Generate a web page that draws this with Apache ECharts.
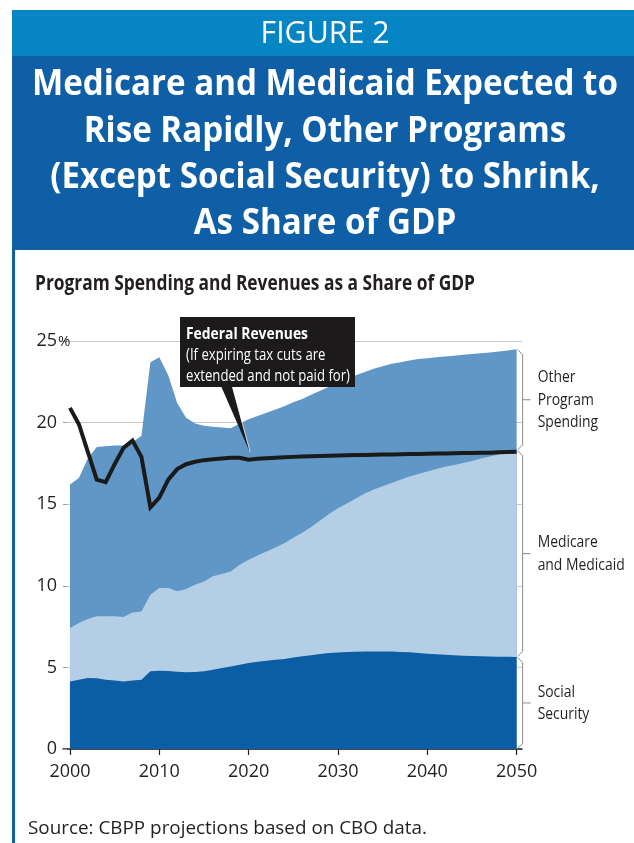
<!DOCTYPE html>
<html>
<head>
<meta charset="utf-8">
<title>Program Spending and Revenues as a Share of GDP</title>
<script src="https://cdn.jsdelivr.net/npm/echarts@6/dist/echarts.min.js"></script>
<style>
  html, body { margin: 0; padding: 0; background: #fff; }
  #chart { width: 634px; height: 843px; }
</style>
</head>
<body>
<div id="chart"></div>
<script>
// ---- data (percent of GDP) ----
const years = [
  2000, 2001, 2002, 2003, 2004, 2005, 2006, 2007, 2008, 2009,
  2010, 2011, 2012, 2013, 2014, 2015, 2016, 2017, 2018, 2019,
  2020, 2021, 2022, 2023, 2024, 2025, 2026, 2027, 2028, 2029,
  2030, 2031, 2032, 2033, 2034, 2035, 2036, 2037, 2038, 2039,
  2040, 2041, 2042, 2043, 2044, 2045, 2046, 2047, 2048, 2049, 2050
];
const socialSecurity = [
  4.14, 4.25, 4.35, 4.33, 4.25, 4.20, 4.14, 4.20, 4.25, 4.76,
  4.80, 4.78, 4.74, 4.70, 4.72, 4.76, 4.86, 4.96, 5.06, 5.17,
  5.27, 5.35, 5.41, 5.47, 5.52, 5.60, 5.68, 5.75, 5.82, 5.88,
  5.92, 5.94, 5.96, 5.97, 5.98, 5.98, 5.97, 5.95, 5.93, 5.88,
  5.84, 5.81, 5.78, 5.75, 5.72, 5.70, 5.68, 5.67, 5.66, 5.65, 5.64
];
const medicareMedicaid = [
  3.27, 3.47, 3.62, 3.80, 3.88, 3.93, 3.95, 4.17, 4.18, 4.69,
  5.06, 5.08, 4.92, 5.10, 5.35, 5.51, 5.72, 5.76, 5.82, 6.12,
  6.33, 6.50, 6.69, 6.88, 7.08, 7.35, 7.57, 7.85, 8.18, 8.52,
  8.83, 9.11, 9.39, 9.68, 9.92, 10.12, 10.33, 10.55, 10.77, 10.97,
  11.16, 11.34, 11.52, 11.65, 11.80, 11.95, 12.12, 12.26, 12.39, 12.53, 12.66
];
const otherPrograms = [
  8.79, 8.88, 9.83, 10.37, 10.42, 10.47, 10.51, 10.43, 10.77, 14.25,
  14.14, 13.04, 11.54, 10.50, 9.88, 9.53, 9.17, 8.98, 8.77, 8.66,
  8.60, 8.55, 8.50, 8.45, 8.40, 8.30, 8.20, 8.10, 7.95, 7.80,
  7.70, 7.65, 7.55, 7.45, 7.40, 7.35, 7.30, 7.20, 7.10, 7.05,
  6.95, 6.85, 6.75, 6.70, 6.63, 6.55, 6.45, 6.37, 6.30, 6.24, 6.20
];
const revenues = [
  20.9, 19.9, 18.2, 16.5, 16.35, 17.45, 18.45, 18.9, 17.9, 14.8,
  15.4, 16.5, 17.15, 17.45, 17.6, 17.7, 17.75, 17.8, 17.85, 17.85,
  17.72, 17.78, 17.82, 17.85, 17.87, 17.9, 17.92, 17.94, 17.96, 17.97,
  17.98, 18.0, 18.01, 18.02, 18.03, 18.04, 18.05, 18.06, 18.07, 18.08,
  18.09, 18.1, 18.11, 18.12, 18.13, 18.14, 18.15, 18.16, 18.18, 18.2, 18.22
];
const xTickYears = [2000, 2010, 2020, 2030, 2040, 2050];

// ---- text ----
const kicker = 'FIGURE 2';
const headline = [
  'Medicare and Medicaid Expected to',
  'Rise Rapidly, Other Programs',
  '(Except Social Security) to Shrink,',
  'As Share of GDP'
];
const chartTitle = 'Program Spending and Revenues as a Share of GDP';
const calloutLines = ['Federal Revenues', '(If expiring tax cuts are', 'extended and not paid for)'];
const calloutYear = 2020;
const sideLabels = [
  ['Social', 'Security'],
  ['Medicare', 'and Medicaid'],
  ['Other', 'Program', 'Spending']
];
const sourceNote = 'Source: CBPP projections based on CBO data.';

// ---- style ----
const HUMAN = '"Open Sans", sans-serif';
const INK = '#231f20';
const COLORS = { ss: '#0b5ea4', med: '#b4cfe5', other: '#6097c6', band1: '#0685c5', band2: '#0f5fa6' };

const measureCtx = document.createElement('canvas').getContext('2d');
function textWidth(text, font) { measureCtx.font = font; return measureCtx.measureText(text).width; }
function fitScale(text, font, target) { return target / textWidth(text, font); }

const chart = echarts.init(document.getElementById('chart'));

// layered areas: each band is filled from zero up to its running total,
// drawn back to front so the lower bands sit on top
const ssTop = socialSecurity.slice();
const medTop = socialSecurity.map((v, i) => v + medicareMedicaid[i]);
const allTop = medTop.map((v, i) => v + otherPrograms[i]);

const pairs = arr => years.map((y, i) => [y, +arr[i].toFixed(2)]);
const areaSeries = (name, arr, color, z) => ({
  name, type: 'line', data: pairs(arr),
  symbol: 'none', lineStyle: { width: 0 }, areaStyle: { color, opacity: 1 },
  itemStyle: { color }, z, silent: true
});

const GRID = { left: 63, right: 112, top: 341, bottom: 94 };
const LABEL_FONT = 18;

chart.setOption({
  animation: false,
  backgroundColor: '#fff',
  grid: GRID,
  xAxis: {
    type: 'value', min: 1999.22, max: 2050.6,
    splitLine: { show: false },
    axisLine: { lineStyle: { color: INK, width: 1.5 } },
    axisTick: { customValues: xTickYears, length: 6, lineStyle: { color: INK, width: 1.2 } },
    axisLabel: { customValues: xTickYears, margin: 14, fontFamily: HUMAN, fontSize: LABEL_FONT, color: INK,
      formatter: v => String(v) }
  },
  yAxis: {
    type: 'value', min: 0, max: 25, interval: 5,
    axisLine: { show: false },
    axisTick: { show: true, inside: true, length: 4, lineStyle: { color: '#9a9a9a' } },
    splitLine: { lineStyle: { color: '#c9c9c9', width: 1 } },
    axisLabel: { margin: 6, fontFamily: HUMAN, fontSize: LABEL_FONT, color: INK, formatter: v => String(v) }
  },
  series: [
    areaSeries('Other Program Spending', allTop, COLORS.other, 2),
    areaSeries('Medicare and Medicaid', medTop, COLORS.med, 3),
    areaSeries('Social Security', ssTop, COLORS.ss, 4),
    {
      name: 'Federal Revenues', type: 'line', data: pairs(revenues),
      symbol: 'none', lineStyle: { color: '#1a1a1a', width: 4, join: 'miter' }, z: 5, silent: true
    }
  ]
});

// ---- decorations placed from the axes ----
const px = (x, y) => chart.convertToPixel({ gridIndex: 0 }, [x, y]);
const g = [];

// header bands
g.push({ type: 'rect', shape: { x: 12, y: 10, width: 622, height: 46 }, style: { fill: COLORS.band1 }, z: 10 });
g.push({ type: 'rect', shape: { x: 12, y: 56, width: 622, height: 194 }, style: { fill: COLORS.band2 }, z: 10 });
g.push({ type: 'rect', shape: { x: 12, y: 250, width: 3, height: 593 }, style: { fill: COLORS.band2 }, z: 10 });

const kickerFont = '31px ' + HUMAN;
g.push({ type: 'text', x: 325, y: 34, scaleX: fitScale(kicker, kickerFont, 129), z: 11,
  style: { text: kicker, font: kickerFont, fill: '#fff', textAlign: 'center', textVerticalAlign: 'middle' } });

const headFont = 'bold 36px ' + HUMAN;
const headScale = fitScale(headline[0], headFont, 586);
headline.forEach((line, i) => {
  g.push({ type: 'text', x: 325, y: 85 + i * 46.4, scaleX: headScale, z: 11,
    style: { text: line, font: headFont, fill: '#fff', textAlign: 'center', textVerticalAlign: 'middle' } });
});

// chart title
const titleFont = 'bold 21px ' + HUMAN;
g.push({ type: 'text', x: 35, y: 284, scaleX: fitScale(chartTitle, titleFont, 440), z: 11,
  style: { text: chartTitle, font: titleFont, fill: INK, textAlign: 'left', textVerticalAlign: 'middle' } });

// percent sign on the top y label
const [gx0, y25] = px(1999.22, 25);
g.push({ type: 'text', x: gx0 - 5, y: y25 + 1, z: 11,
  style: { text: '%', font: '15px ' + HUMAN, fill: INK, textAlign: 'left', textVerticalAlign: 'middle' } });

// callout box for revenues
const ri = years.indexOf(calloutYear);
const [tx, ty] = px(calloutYear, revenues[ri]);
const box = { x: 180, y: 317, w: 175, h: 70 };
g.push({ type: 'rect', shape: { x: box.x, y: box.y, width: box.w, height: box.h }, style: { fill: '#1c1a1b' }, z: 20 });
g.push({ type: 'polygon', shape: { points: [[221, box.y + box.h - 1], [232, box.y + box.h - 1], [tx + 1, ty - 8]] },
  style: { fill: '#1c1a1b' }, z: 20 });
g.push({ type: 'polyline', shape: { points: [[232.5, box.y + box.h], [tx + 1.5, ty - 8]] },
  style: { stroke: 'rgba(255,255,255,0.8)', lineWidth: 0.8, fill: null }, z: 20 });
const boldF = 'bold 16px ' + HUMAN, regF = '16px ' + HUMAN;
g.push({ type: 'text', x: 186, y: 334, scaleX: fitScale(calloutLines[0], boldF, 122), z: 21,
  style: { text: calloutLines[0], font: boldF, fill: '#fff', textAlign: 'left', textVerticalAlign: 'middle' } });
const regScale = fitScale(calloutLines[2], regF, 164);
[1, 2].forEach((k, j) => {
  g.push({ type: 'text', x: 186, y: 355 + j * 21, scaleX: regScale, z: 21,
    style: { text: calloutLines[k], font: regF, fill: '#fff', textAlign: 'left', textVerticalAlign: 'middle' } });
});

// braces and labels at the right edge
const last = years.length - 1;
const endYear = years[last];
const bands = [[0, ssTop[last]], [ssTop[last], medTop[last]], [medTop[last], allTop[last]]];
const sideFont = '17px ' + HUMAN;
const sideScale = fitScale('and Medicaid', sideFont, 87);
bands.forEach(([lo, hi], i) => {
  const [xe, yLo] = px(endYear, lo);
  const yHi = px(endYear, hi)[1];
  const x0 = xe + 1, xv = xe + 6, ym = (yLo + yHi) / 2;
  g.push({ type: 'polyline', z: 12,
    shape: { points: [[x0, yHi + 0.5], [xv, yHi + 5.5], [xv, yLo - 5.5], [x0, yLo - 0.5]] },
    style: { stroke: '#8a8a8a', lineWidth: 1, fill: null } });
  g.push({ type: 'line', z: 12, shape: { x1: xv, y1: ym, x2: xv + 8, y2: ym },
    style: { stroke: '#8a8a8a', lineWidth: 1 } });
  const lines = sideLabels[i];
  const lh = 22.3;
  lines.forEach((t, k) => {
    g.push({ type: 'text', x: xv + 15, y: ym + (k - (lines.length - 1) / 2) * lh, scaleX: sideScale, z: 12,
      style: { text: t, font: sideFont, fill: INK, textAlign: 'left', textVerticalAlign: 'middle' } });
  });
});

// source line
const srcFont = '19px ' + HUMAN;
g.push({ type: 'text', x: 28, y: 829, scaleX: fitScale(sourceNote, srcFont, 399), z: 11,
  style: { text: sourceNote, font: srcFont, fill: INK, textAlign: 'left', textVerticalAlign: 'middle' } });

chart.setOption({ graphic: g });
</script>
</body>
</html>
